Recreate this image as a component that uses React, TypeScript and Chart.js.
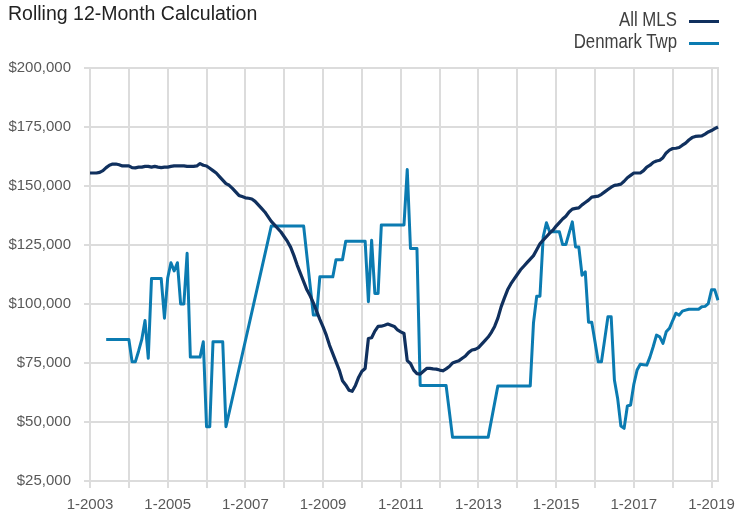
import React, { useEffect, useRef } from "react";
import { Chart, registerables } from "chart.js";

Chart.register(...registerables);

// Monthly categories: Jan 2003 .. Mar 2019
const START_YEAR = 2003;
const MONTH_COUNT = 195;
const categories: string[] = [];
for (let i = 0; i < MONTH_COUNT; i++) {
  categories.push(`${(i % 12) + 1}-${START_YEAR + Math.floor(i / 12)}`);
}

const seriesNames = ["All MLS", "Denmark Twp"];

// All MLS rolling 12-month median price
const allMLS: number[] = [
  155500, 155500, 155500, 155800, 156500, 157800, 158800, 159300, 159300, 159000, 158500, 158500,
  158500, 157800, 157700, 158000, 158000, 158300, 158300, 158000, 158300, 158000, 157800, 158000,
  158000, 158300, 158500, 158500, 158500, 158500, 158300, 158300, 158300, 158500, 159500, 158800,
  158500, 157500, 156500, 155500, 154000, 152500, 151000, 150300, 149000, 147500, 146000, 145500,
  145000, 144800, 144500, 143500, 142000, 140500, 139000, 137000, 135000, 133500, 132000, 130500,
  128500, 126500, 124000, 120500, 116500, 113000, 109500, 106000, 103500, 100500, 97000, 93500,
  90300, 86800, 82500, 79000, 75500, 72000, 67500, 65700, 63500, 63000, 65500, 69000,
  71500, 72700, 85400, 85700, 88500, 90500, 90600, 91000, 91500, 91000, 90500, 89000,
  88200, 87500, 76000, 74800, 72000, 70500, 70300, 71500, 72700, 72700, 72500, 72400,
  72000, 71700, 72500, 73500, 75000, 75500, 76000, 77000, 78000, 79500, 80500, 80800,
  81500, 83000, 84500, 86000, 88000, 90500, 94000, 98800, 102500, 106000, 108500, 110500,
  112500, 114500, 116000, 117500, 119000, 120500, 123000, 125500, 127100, 128500, 130000, 131300,
  133000, 134500, 136000, 137200, 139000, 140200, 140500, 140700, 142000, 143000, 144000, 145300,
  145500, 145700, 146500, 147500, 148500, 149500, 150300, 150500, 150800, 152000, 153500, 154500,
  155500, 155500, 155500, 156500, 158000, 158800, 160000, 160600, 160900, 162000, 164000, 165200,
  165900, 166000, 166300, 167300, 168200, 169500, 170500, 171000, 171100, 171200, 172000, 172900,
  173500, 174300, 175000,
];

// Denmark Twp rolling 12-month median price (null = no reported value)
const denmarkTwp: (number | null)[] = [
  null, null, null, null, null, 85000, 85000, 85000, 85000, 85000, 85000, 85000,
  85000, 75500, 75500, 80000, 85000, 93000, 77000, 110800, 110800, 110800, 110800, 94000,
  111000, 117500, 114000, 117500, 100000, 100000, 121500, 77500, 77500, 77500, 77500, 84000,
  48000, 48000, 84000, 84000, 84000, 84000, 48000, null, null, null, null, null,
  null, null, null, null, null, null, null, null, 133000, 133000, 133000, 133000,
  133000, 133000, 133000, 133000, 133000, 133000, 133000, null, null, 95300, 95300, 111500,
  111500, 111500, 111500, 111500, 118800, 118800, 118800, 126600, 126600, 126600, 126600, 126600,
  126600, 126600, 101000, 127000, 104500, 104500, 133500, 133500, 133500, 133500, 133500, 133500,
  133500, 133500, 157000, 123500, 123500, 123500, 65500, 65500, 65500, 65500, 65500, 65500,
  65500, 65500, 65500, null, 43500, 43500, 43500, 43500, 43500, 43500, 43500, 43500,
  43500, 43500, 43500, 43500, null, null, 65300, 65300, 65300, 65300, 65300, 65300,
  65300, 65300, 65300, 65300, 65300, 92000, 103300, 103300, 128500, 134400, 130600, 130600,
  130600, 130600, 125200, 125200, 130000, 134800, 124200, 124200, 112200, 113600, 92300, 92300,
  84000, 75500, 75500, 85000, 94600, 94600, 67800, 60000, 48300, 47300, 56800, 57200,
  66000, 72000, 74500, 74300, 74100, 77600, 82000, 86800, 86100, 83300, 88200, 89700,
  93000, 96100, 95300, 97000, 97400, 97800, 97800, 97800, 97800, 98800, 99000, 100200,
  106000, 106000, 101600,
];

const yTicksMin = 25000;
const yTicksMax = 200000;
const yTicksStep = 25000;

const NAVY = "#10305e";
const TEAL = "#0b7bb1";
const GRID = "#dcdcdc";
const TICK_TEXT = "#595959";
const FONT = "'Liberation Sans', Arial, Helvetica, sans-serif";

export default function App() {
  const canvasRef = useRef<HTMLCanvasElement | null>(null);

  useEffect(() => {
    if (!canvasRef.current) return;
    const chart = new Chart(canvasRef.current, {
      type: "line",
      data: {
        labels: categories,
        datasets: [
          {
            label: seriesNames[0],
            data: allMLS,
            borderColor: NAVY,
            backgroundColor: NAVY,
            borderWidth: 3.2,
            pointRadius: 0,
            tension: 0,
            borderJoinStyle: "round",
          },
          {
            label: seriesNames[1],
            data: denmarkTwp,
            borderColor: TEAL,
            backgroundColor: TEAL,
            borderWidth: 3,
            pointRadius: 0,
            tension: 0,
            spanGaps: true,
            borderJoinStyle: "round",
          },
        ],
      },
      options: {
        responsive: false,
        animation: false,
        layout: { padding: { left: 0, right: 20, top: 68, bottom: 0 } },
        plugins: {
          legend: { display: false },
          title: { display: false },
          tooltip: { enabled: false },
        },
        scales: {
          x: {
            type: "category",
            offset: false,
            grid: {
              color: (ctx: any) => (ctx.index % 12 === 0 ? GRID : "rgba(0,0,0,0)"),
              lineWidth: (ctx: any) => (ctx.index % 12 === 0 ? 2 : 0),
              tickLength: 7,
            },
            border: { display: true, color: GRID, width: 2 },
            ticks: {
              autoSkip: false,
              maxRotation: 0,
              minRotation: 0,
              padding: 8,
              color: TICK_TEXT,
              font: { family: FONT, size: 15 },
              callback: function (this: any, value: any, index: number) {
                return index % 24 === 0 ? this.getLabelForValue(value) : "";
              },
            },
            afterFit: (scale: any) => {
              scale.height = 34;
            },
          },
          y: {
            type: "linear",
            position: "left",
            min: yTicksMin,
            max: yTicksMax,
            grid: { color: GRID, lineWidth: 2, tickLength: 6 },
            border: { display: true, color: GRID, width: 2 },
            ticks: {
              stepSize: yTicksStep,
              padding: 13,
              color: TICK_TEXT,
              font: { family: FONT, size: 15 },
              callback: (v: any) => "$" + Number(v).toLocaleString("en-US"),
            },
            afterFit: (scale: any) => {
              scale.width = 90;
            },
          },
          yRight: {
            type: "linear",
            position: "right",
            display: true,
            grid: { display: false, drawOnChartArea: false },
            border: { display: true, color: GRID, width: 2 },
            ticks: { display: false },
            afterFit: (scale: any) => {
              scale.width = 0;
            },
          },
        },
      },
    });
    return () => chart.destroy();
  }, []);

  const legendRow = (name: string, color: string, top: number) => (
    <div key={name} style={{ position: "absolute", top, right: 0, height: 20, width: 300 }}>
      <div
        style={{
          position: "absolute",
          right: 61,
          top: 0,
          fontFamily: FONT,
          fontSize: 20,
          lineHeight: "20px",
          color: "#404040",
          whiteSpace: "nowrap",
          transform: "scaleX(0.84)",
          transformOrigin: "right center",
        }}
      >
        {name}
      </div>
      <div
        style={{
          position: "absolute",
          right: 19,
          top: 11,
          width: 30,
          height: 3,
          background: color,
        }}
      />
    </div>
  );

  return (
    <div
      style={{
        position: "fixed",
        left: 0,
        top: 0,
        width: 738,
        height: 515,
        background: "#ffffff",
        overflow: "hidden",
      }}
    >
      <canvas ref={canvasRef} width={738} height={515} style={{ position: "absolute", left: 0, top: 0 }} />
      <div
        style={{
          position: "absolute",
          left: 8,
          top: 3,
          fontFamily: FONT,
          fontSize: 19.5,
          lineHeight: "20px",
          color: "#222222",
          whiteSpace: "nowrap",
        }}
      >
        Rolling 12-Month Calculation
      </div>
      {legendRow(seriesNames[0], NAVY, 9)}
      {legendRow(seriesNames[1], TEAL, 31)}
    </div>
  );
}
